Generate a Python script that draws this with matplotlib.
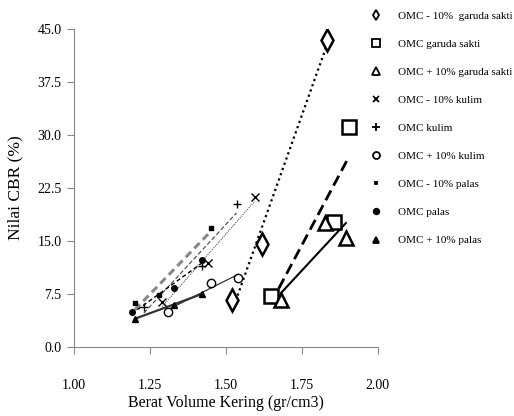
import numpy as np
import matplotlib.pyplot as plt
from matplotlib.lines import Line2D

plt.rcParams['font.family'] = ['Liberation Serif', 'DejaVu Serif']

# ---- data ----
labels = ["OMC - 10%  garuda sakti", "OMC garuda sakti", "OMC + 10% garuda sakti",
          "OMC - 10% kulim", "OMC kulim", "OMC + 10% kulim",
          "OMC - 10% palas", "OMC palas", "OMC + 10% palas"]

gs_min_x = [1.52, 1.618, 1.832]
gs_min_y = [6.6, 14.6, 43.4]
gs_omc_x = [1.648, 1.855, 1.905]
gs_omc_y = [7.2, 17.7, 31.1]
gs_plus_x = [1.681, 1.826, 1.895]
gs_plus_y = [6.6, 17.5, 15.4]

ku_min_x = [1.29, 1.44, 1.595]
ku_min_y = [6.3, 11.9, 21.2]
ku_omc_x = [1.23, 1.42, 1.535]
ku_omc_y = [5.6, 11.5, 20.3]
ku_plus_x = [1.31, 1.45, 1.54]
ku_plus_y = [5.0, 9.1, 9.8]

pa_min_x = [1.20, 1.28, 1.45]
pa_min_y = [6.2, 7.4, 16.8]
pa_omc_x = [1.19, 1.33, 1.42]
pa_omc_y = [5.0, 8.3, 12.3]
pa_plus_x = [1.20, 1.33, 1.42]
pa_plus_y = [4.0, 6.0, 7.5]

series = [
    # x, y, marker, marker size, line style, line width, line colour
    (gs_min_x, gs_min_y, "d", 11, (0, (1, 1.5)), 1.6, "black"),
    (gs_omc_x, gs_omc_y, "s", 10, (0, (4, 2)), 2.0, "black"),
    (gs_plus_x, gs_plus_y, "^", 10, "-", 1.5, "black"),
    (ku_min_x, ku_min_y, "x", 6, (0, (1, 1)), 0.8, "#555555"),
    (ku_omc_x, ku_omc_y, "+", 6, (0, (4, 2)), 0.8, "#444444"),
    (ku_plus_x, ku_plus_y, "o", 6, "-", 0.9, "#333333"),
    (pa_min_x, pa_min_y, (4, 0, 45), 5, (0, (2.5, 1.5)), 2.2, "#888888"),
    (pa_omc_x, pa_omc_y, "o", 4, (0, (3, 2)), 1.0, "black"),
    (pa_plus_x, pa_plus_y, "^", 4, "-", 1.6, "#333333"),
]
legend_markers = ["d", "s", "^", "x", "+", "o", (4, 0, 45), "o", "^"]
legend_sizes = [5.5, 5.5, 5.5, 5, 6, 5, 3, 4, 4]
legend_fill = ["none", "none", "none", "black", "black", "none", "black", "black", "black"]

fig = plt.figure(figsize=(5.14, 4.16), dpi=100)
ax = fig.add_axes([0.144, 0.166, 0.591, 0.764])

for i, (xs, ys, mk, ms, ls, lw, lc) in enumerate(series):
    xs = np.array(xs)
    ys = np.array(ys)
    k, b = np.polyfit(xs, ys, 1)
    xl = np.array([xs.min(), xs.max()])
    ax.plot(xl, k * xl + b, linestyle=ls, linewidth=lw, color=lc, zorder=2)
    filled = i in (6, 7, 8) or mk in ("x", "+")
    ax.plot(xs, ys, linestyle="none", marker=mk, markersize=ms,
            markerfacecolor="black" if filled else "white",
            markeredgecolor="black", markeredgewidth=1.8 if i < 3 else 1.0, zorder=3)

ax.set_xlim(1.0, 2.0)
ax.set_ylim(0, 45)
ax.set_xticks([1.00, 1.25, 1.50, 1.75, 2.00])
ax.set_xticklabels(["1.00", "1.25", "1.50", "1.75", "2.00"])
ax.set_yticks([0, 7.5, 15, 22.5, 30, 37.5, 45])
ax.set_yticklabels(["0.0", "7.5", "15.0", "22.5", "30.0", "37.5", "45.0"])
ax.tick_params(axis="x", direction="out", length=5, pad=18, labelsize=10, color="#888888")
ax.tick_params(axis="y", direction="out", length=5, pad=4, labelsize=10, color="#888888")
for s in ["top", "right"]:
    ax.spines[s].set_visible(False)
for s in ["left", "bottom"]:
    ax.spines[s].set_color("#888888")
    ax.spines[s].set_linewidth(0.8)

ax.set_xlabel("Berat Volume Kering (gr/cm3)", fontsize=11.5, labelpad=2)
ax.set_ylabel("Nilai CBR (%)", fontsize=12.5, labelpad=10)

handles = [Line2D([], [], linestyle="none", marker=m, markersize=s,
                  markerfacecolor=f, markeredgecolor="black", markeredgewidth=1.3)
           for m, s, f in zip(legend_markers, legend_sizes, legend_fill)]
fig.legend(handles, labels, loc="upper left", bbox_to_anchor=(0.695, 0.998),
           frameon=False, fontsize=8, handlelength=1.5, handletextpad=1.3,
           labelspacing=1.65)

plt.savefig("out.png", dpi=100)
